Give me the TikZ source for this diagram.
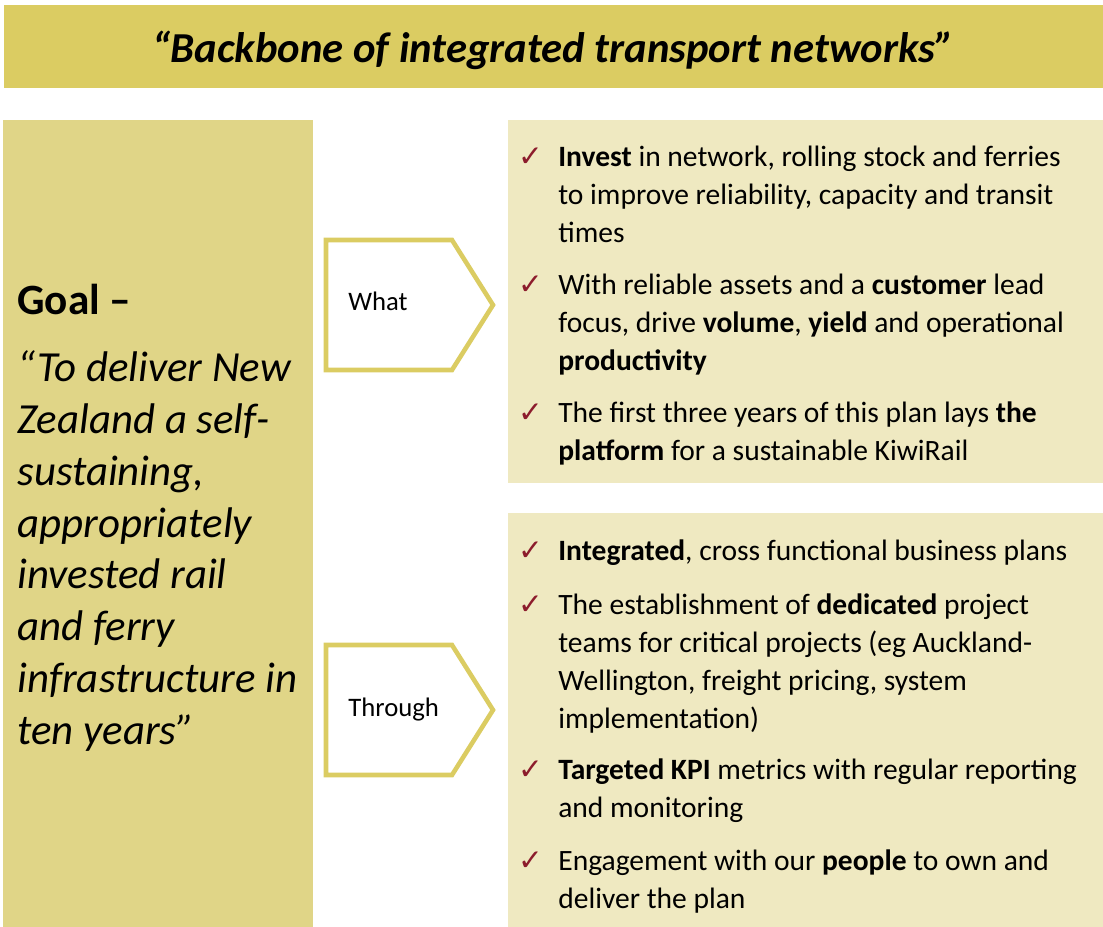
\documentclass[tikz,border=0pt]{standalone}
\usepackage{fontspec}
\setmainfont{Carlito}
\newfontfamily\tickfont{DejaVu Sans}
\usepackage{xcolor}
\usetikzlibrary{positioning}

\definecolor{bandgold}{HTML}{DBCC62}
\definecolor{goalgold}{HTML}{E0D587}
\definecolor{panelcream}{HTML}{EFE9C1}
\definecolor{tickred}{HTML}{8C1C2C}

\newcommand{\bodyfont}{\fontsize{16.8}{21.5}\selectfont}
\newcommand{\tickmark}{{\tickfont\color{tickred}\strut✓}}

\begin{document}
\begin{tikzpicture}[x=0.02cm,y=-0.02cm,
  every node/.style={inner sep=0pt},
  item/.style={anchor=north west,align=left,font=\bodyfont},
  check/.style={anchor=north east,xshift=-8pt,font=\bodyfont},
  chevron/.style={draw=bandgold,line width=2.6pt,fill=white,line join=miter},
  steplabel/.style={anchor=base west,font=\fontsize{15.2}{18}\selectfont}]
  \useasboundingbox (0,0) rectangle (1103,927);
  % bands and panels
  \fill[bandgold] (4,5) rectangle (1103,88);
  \fill[goalgold] (3,120) rectangle (313,927);
  \fill[panelcream] (508,120) rectangle (1103,483);
  \fill[panelcream] (508,513) rectangle (1103,927);
  \node[anchor=base,font=\fontsize{24.3}{30}\selectfont\bfseries\itshape] (title) at (553,62)
    {“Backbone of integrated transport networks”};
  % goal column
  \node[anchor=base west,font=\fontsize{24.6}{29.5}\selectfont\bfseries] (goal) at (17,314) {Goal –};
  \node[anchor=north west,align=left,font=\fontsize{24.4}{29.5}\selectfont\itshape] (quote) at (17,345)
    {\strut“To deliver New\\Zealand a self-\\sustaining,\\appropriately\\invested rail\\and ferry\\infrastructure in\\ten years”};
  % what / through arrows
  \draw[chevron] (326,240) -- (452,240) -- (493,305) -- (452,370) -- (326,370) -- cycle;
  \node[steplabel] (what) at (348,310.5) {What};
  \draw[chevron] (326,645) -- (452,645) -- (493,710) -- (452,775) -- (326,775) -- cycle;
  \node[steplabel] (through) at (348,716) {Through};
  % what items
  \node[item] (w1) at (558,140) {\strut\textbf{Invest} in network, rolling stock and ferries\\to improve reliability, capacity and transit\\times};
  \node[item] (w2) at (558,268) {\strut With reliable assets and a \textbf{customer} lead\\focus, drive \textbf{volume}, \textbf{yield} and operational\\\textbf{productivity}};
  \node[item] (w3) at (558,396) {\strut The first three years of this plan lays \textbf{the}\\\textbf{platform} for a sustainable KiwiRail};
  % through items
  \node[item] (t1) at (558,534) {\strut\textbf{Integrated}, cross functional business plans};
  \node[item] (t2) at (558,588) {\strut The establishment of \textbf{dedicated} project\\teams for critical projects (eg Auckland-\\Wellington, freight pricing, system\\implementation)};
  \node[item] (t3) at (558,753) {\strut\textbf{Targeted KPI} metrics with regular reporting\\and monitoring};
  \node[item] (t4) at (558,844) {\strut Engagement with our \textbf{people} to own and\\deliver the plan};
  \foreach \it in {w1,w2,w3,t1,t2,t3,t4}
    \node[check] (c-\it) at (\it.north west) {\tickmark};
\end{tikzpicture}
\end{document}
